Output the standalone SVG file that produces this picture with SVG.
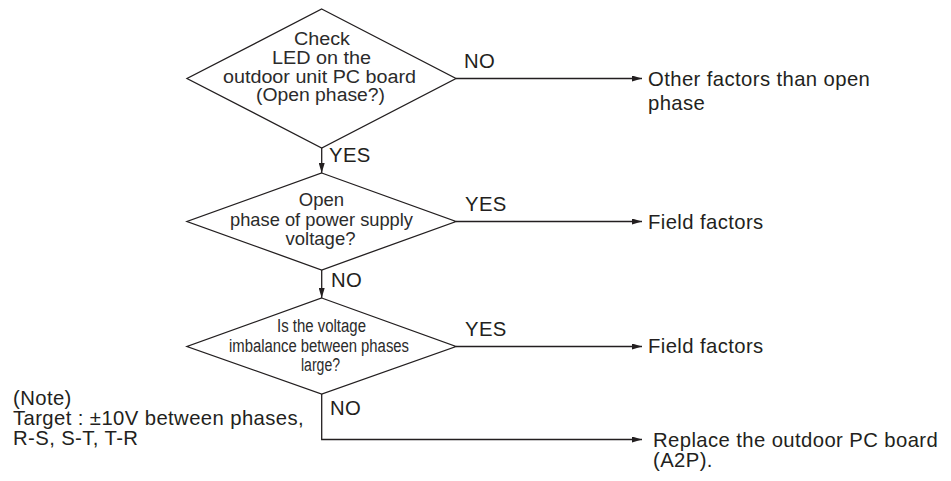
<svg xmlns="http://www.w3.org/2000/svg" width="951" height="481" viewBox="0 0 951 481">
  <style>
    .shape { fill: #ffffff; stroke: #231f20; stroke-width: 1.3; }
    .wire { fill: none; stroke: #231f20; stroke-width: 1.3; }
    .lbl { font-family: "Liberation Sans", Arial, Helvetica, sans-serif; font-size: 20.3px; letter-spacing: 0.4px; fill: #231f20; }
    .dtxt { font-family: "Liberation Sans", Arial, Helvetica, sans-serif; fill: #2b2b2b; text-anchor: middle; }
  </style>
  <defs>
    <marker id="arrow" viewBox="0 0 10 6" refX="10" refY="3" markerWidth="10" markerHeight="6" markerUnits="userSpaceOnUse" orient="auto">
      <path d="M0,0 L10,3 L0,6 Z" fill="#231f20"/>
    </marker>
  </defs>
  <rect width="951" height="481" fill="#ffffff"/>

  <!-- connectors -->
  <g id="connectors">
    <line class="wire" x1="456" y1="78.5" x2="642" y2="78.5" marker-end="url(#arrow)"/>
    <line class="wire" x1="321.7" y1="148" x2="321.7" y2="173" marker-end="url(#arrow)"/>
    <line class="wire" x1="456" y1="221.5" x2="642" y2="221.5" marker-end="url(#arrow)"/>
    <line class="wire" x1="321.7" y1="270" x2="321.7" y2="298" marker-end="url(#arrow)"/>
    <line class="wire" x1="456" y1="346.5" x2="642" y2="346.5" marker-end="url(#arrow)"/>
    <polyline class="wire" points="321.7,394 321.7,439.5 642,439.5" marker-end="url(#arrow)"/>
    <text class="lbl" x="464" y="68">NO</text>
    <text class="lbl" x="329" y="162">YES</text>
    <text class="lbl" x="465" y="211">YES</text>
    <text class="lbl" x="331" y="287">NO</text>
    <text class="lbl" x="465" y="336">YES</text>
    <text class="lbl" x="330" y="415">NO</text>
  </g>

  <!-- decision: LED check -->
  <g id="check-led">
    <polygon class="shape" points="321.7,9 456,78.5 321.7,148 187,78.5"/>
    <text class="dtxt" font-size="18" x="322" y="45" textLength="56" lengthAdjust="spacingAndGlyphs">Check</text>
    <text class="dtxt" font-size="18" x="321.5" y="63.5" textLength="99" lengthAdjust="spacingAndGlyphs">LED on the</text>
    <text class="dtxt" font-size="18" x="319.5" y="82.5" textLength="193" lengthAdjust="spacingAndGlyphs">outdoor unit PC board</text>
    <text class="dtxt" font-size="18" x="320.5" y="101" textLength="129" lengthAdjust="spacingAndGlyphs">(Open phase?)</text>
  </g>

  <!-- decision: open phase of supply -->
  <g id="open-phase">
    <polygon class="shape" points="321.7,173 456,221.5 321.7,270 187,221.5"/>
    <text class="dtxt" font-size="18.5" x="321.5" y="206">Open</text>
    <text class="dtxt" font-size="18.5" x="321.5" y="226" textLength="183" lengthAdjust="spacingAndGlyphs">phase of power supply</text>
    <text class="dtxt" font-size="18.5" x="320.5" y="245">voltage?</text>
  </g>

  <!-- decision: voltage imbalance -->
  <g id="imbalance">
    <polygon class="shape" points="321.7,298 456,346.5 321.7,394 187,346.5"/>
    <text class="dtxt" font-size="18" x="321.5" y="331.5" textLength="89" lengthAdjust="spacingAndGlyphs">Is the voltage</text>
    <text class="dtxt" font-size="18" x="319" y="351.5" textLength="180" lengthAdjust="spacingAndGlyphs">imbalance between phases</text>
    <text class="dtxt" font-size="18" x="320.5" y="371" textLength="39" lengthAdjust="spacingAndGlyphs">large?</text>
  </g>

  <!-- outcomes -->
  <g id="other-factors">
    <text class="lbl" x="648" y="86">Other factors than open</text>
    <text class="lbl" x="648" y="109.5">phase</text>
  </g>
  <g id="field-factors-1">
    <text class="lbl" x="648" y="228.5">Field factors</text>
  </g>
  <g id="field-factors-2">
    <text class="lbl" x="648" y="353">Field factors</text>
  </g>
  <g id="replace-board">
    <text class="lbl" x="653" y="447">Replace the outdoor PC board</text>
    <text class="lbl" x="653" y="467">(A2P).</text>
  </g>

  <!-- note -->
  <g id="note">
    <text class="lbl" x="13" y="405">(Note)</text>
    <text class="lbl" x="13" y="425">Target : ±10V between phases,</text>
    <text class="lbl" x="13" y="445">R-S, S-T, T-R</text>
  </g>
</svg>
